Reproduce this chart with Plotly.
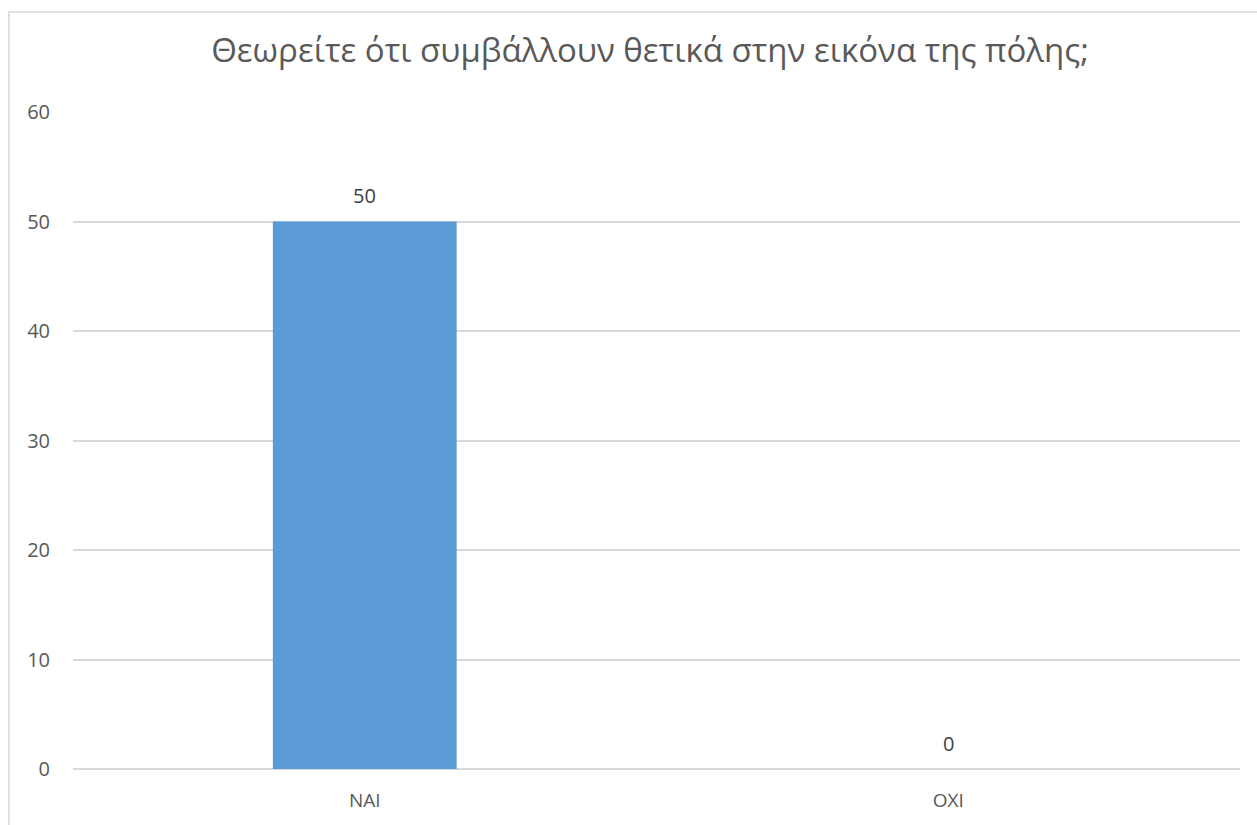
import plotly.graph_objects as go

categories = ["NAI", "OXI"]
values = [50, 0]
title_text = "Θεωρείτε ότι συμβάλλουν θετικά στην εικόνα της πόλης;"

W, H = 1257, 825
L, R, T, B = 73, 17, 112, 56
pw, ph = W - L - R, H - T - B

fig = go.Figure(
    go.Bar(
        x=categories,
        y=values,
        width=0.315,
        marker={"color": "#5b9bd5", "line": {"width": 0}},
        hoverinfo="x+y",
    )
)

# value labels above each bar
for c, v in zip(categories, values):
    fig.add_annotation(
        x=c, y=v, text=str(v), showarrow=False, yshift=26,
        font={"size": 20, "color": "#404040"},
    )

fig.update_layout(
    width=W,
    height=H,
    margin={"l": L, "r": R, "t": T, "b": B},
    paper_bgcolor="white",
    plot_bgcolor="white",
    font={"family": "Open Sans, sans-serif", "color": "#595959"},
    title={
        "text": title_text,
        "x": 650 / W,
        "xanchor": "center",
        "y": 1 - 50 / H,
        "yanchor": "middle",
        "font": {"size": 33, "color": "#595959"},
    },
    showlegend=False,
    shapes=[
        {
            "type": "rect",
            "xref": "paper",
            "yref": "paper",
            "x0": (9 - L) / pw,
            "x1": 1.2,
            "y0": -0.3,
            "y1": 1 + (T - 12) / ph,
            "line": {"color": "#d9d9d9", "width": 1.5},
            "fillcolor": "rgba(0,0,0,0)",
            "layer": "below",
        }
    ],
)

fig.update_yaxes(
    range=[0, 60],
    dtick=10,
    showgrid=True,
    gridcolor="#d9d9d9",
    gridwidth=1.5,
    zeroline=True,
    zerolinecolor="#d9d9d9",
    zerolinewidth=1.5,
    showline=False,
    tickfont={"size": 20, "color": "#595959"},
    ticklabelstandoff=22,
    fixedrange=True,
)
fig.update_xaxes(
    showline=False,
    showgrid=False,
    tickfont={"size": 19, "color": "#595959"},
    ticklabelstandoff=18,
)

fig.write_html(
    "out.html",
    config={"displayModeBar": False},
    post_script="document.body.style.margin='0';document.body.style.overflow='hidden';",
)
